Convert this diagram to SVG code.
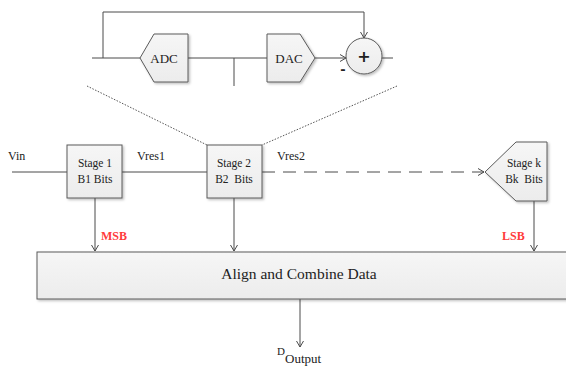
<svg xmlns="http://www.w3.org/2000/svg" width="566" height="367" viewBox="0 0 566 367">
<style>
.ln{fill:none;stroke:#4a4a4a;stroke-width:1}
.box{fill:url(#g);stroke:#5a5a5a;stroke-width:1;filter:url(#sh)}
.t{font-family:"Liberation Serif",serif;fill:#222}
.red{font-family:"Liberation Serif",serif;fill:#ff3b3b;font-weight:bold;font-size:12px}
.dot{fill:none;stroke:#555;stroke-width:1;stroke-dasharray:1.5 1.5}
</style>
<defs>
<linearGradient id="g" x1="0" y1="0" x2="0" y2="1">
<stop offset="0" stop-color="#f6f6f6"/>
<stop offset="1" stop-color="#ececec"/>
</linearGradient>
<filter id="sh" x="-10%" y="-10%" width="130%" height="130%">
<feDropShadow dx="1.5" dy="1.5" stdDeviation="1" flood-color="#000" flood-opacity="0.25"/>
</filter>
<marker id="ar" markerWidth="10" markerHeight="10" refX="8" refY="5" orient="auto" markerUnits="userSpaceOnUse">
<polyline points="2,1.5 8,5 2,8.5" fill="none" stroke="#4a4a4a" stroke-width="1"/>
</marker>
</defs>

<g id="connectors">
<!-- detail view -->
<polyline class="ln" points="103,58 103,12 364,12 364,38" marker-end="url(#ar)"/>
<line class="ln" x1="92" y1="58" x2="140" y2="58"/>
<line class="ln" x1="188" y1="58" x2="267" y2="58"/>
<line class="ln" x1="234" y1="58" x2="234" y2="86"/>
<line class="ln" x1="315" y1="58" x2="346" y2="58" marker-end="url(#ar)"/>
<line class="ln" x1="382" y1="58" x2="393" y2="58"/>
<line class="dot" x1="87" y1="86" x2="207" y2="145"/>
<line class="dot" x1="397" y1="86" x2="262" y2="145"/>
<!-- main chain -->
<line class="ln" x1="12" y1="172" x2="67" y2="172"/>
<line class="ln" x1="122" y1="172" x2="207" y2="172"/>
<line class="ln" x1="262" y1="172" x2="484" y2="172" stroke-dasharray="13 8" marker-end="url(#ar)"/>
<line class="ln" x1="95" y1="198" x2="95" y2="251" marker-end="url(#ar)"/>
<line class="ln" x1="234" y1="198" x2="234" y2="251" marker-end="url(#ar)"/>
<line class="ln" x1="534" y1="201" x2="534" y2="251" marker-end="url(#ar)"/>
<line class="ln" x1="300" y1="299" x2="300" y2="347" marker-end="url(#ar)"/>
</g>

<g id="adc">
<polygon class="box" points="140,58 154,34 188,34 188,82 154,82"/>
<text class="t" x="164" y="63" font-size="13" text-anchor="middle">ADC</text>
</g>
<g id="dac">
<polygon class="box" points="267,34 300,34 315,58 300,82 267,82"/>
<text class="t" x="289" y="63" font-size="13" text-anchor="middle">DAC</text>
</g>
<g id="sum">
<circle class="box" cx="364" cy="56" r="18"/>
<text x="364" y="62" font-family="DejaVu Sans,sans-serif" font-size="16" font-weight="bold" fill="#222" text-anchor="middle">+</text>
<text x="343" y="74" font-family="DejaVu Sans,sans-serif" font-size="13" font-weight="bold" fill="#222" text-anchor="middle">-</text>
</g>

<g id="stage1">
<rect class="box" x="67" y="145" width="55" height="53"/>
<text class="t" x="95" y="167" font-size="11.5" text-anchor="middle">Stage 1</text>
<text class="t" x="95" y="183" font-size="11.5" text-anchor="middle">B1 Bits</text>
</g>
<g id="stage2">
<rect class="box" x="207" y="145" width="55" height="53"/>
<text class="t" x="234" y="167" font-size="11.5" text-anchor="middle">Stage 2</text>
<text class="t" x="234" y="183" font-size="11.5" text-anchor="middle" xml:space="preserve">B2  Bits</text>
</g>
<g id="stagek">
<polygon class="box" points="485,172 516,142 547,142 547,201 516,201"/>
<text class="t" x="524" y="167" font-size="11.5" text-anchor="middle">Stage k</text>
<text class="t" x="524" y="183" font-size="11.5" text-anchor="middle" xml:space="preserve">Bk  Bits</text>
</g>

<g id="labels">
<text class="t" x="8" y="160" font-size="12">Vin</text>
<text class="t" x="137" y="160" font-size="12">Vres1</text>
<text class="t" x="277" y="160" font-size="12">Vres2</text>
<text class="red" x="101" y="240">MSB</text>
<text class="red" x="502" y="240">LSB</text>
</g>

<g id="combine">
<rect class="box" x="37" y="252" width="540" height="47"/>
<text class="t" x="299" y="279" font-size="15.5" text-anchor="middle">Align and Combine Data</text>
</g>

<g id="output">
<text class="t" x="277" y="355" font-size="11">D</text>
<text class="t" x="285" y="363" font-size="13">Output</text>
</g>
</svg>
